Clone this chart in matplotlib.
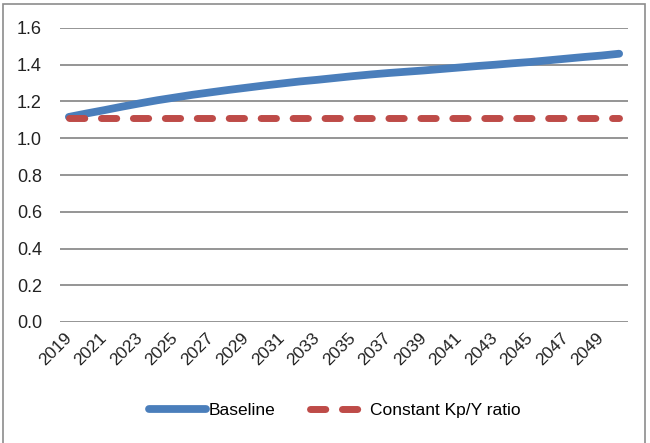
import matplotlib
matplotlib.use("Agg")
import matplotlib.pyplot as plt
from matplotlib.patches import Rectangle
from matplotlib.transforms import ScaledTranslation

years = list(range(2019, 2051))
baseline = [1.116, 1.135, 1.153, 1.172, 1.190, 1.207, 1.222, 1.237, 1.250, 1.263,
            1.275, 1.287, 1.298, 1.309, 1.318, 1.328, 1.338, 1.347, 1.355, 1.362,
            1.369, 1.377, 1.385, 1.393, 1.400, 1.408, 1.415, 1.424, 1.433, 1.442,
            1.450, 1.460]
constant = [1.11] * len(years)
tick_years = [str(y) for y in range(2019, 2050, 2)]
series_names = ["Baseline", "Constant Kp/Y ratio"]

plt.rcParams['font.family'] = ['Liberation Sans', 'DejaVu Sans']

fig = plt.figure(figsize=(6.5, 4.43), dpi=100)
ax = fig.add_axes([60/650, 1-322/443, (628-60)/650, (322-28)/443])

x = list(range(len(years)))
ax.plot(x, baseline, color='#4a7ebb', lw=5.6, solid_capstyle='round',
        label=series_names[0], zorder=3)
ax.plot(x, constant, color='#be4b48', lw=5.0, dashes=(2.2, 2.4),
        dash_capstyle='round', label=series_names[1], zorder=3)

ax.set_xlim(-0.5, len(years) - 0.5)
ax.set_ylim(0, 1.6)
ax.set_yticks([i * 0.2 for i in range(9)])
ax.set_yticklabels([f"{i*0.2:.1f}" for i in range(9)], fontsize=13, color='#222222')
ax.set_xticks([years.index(int(t)) for t in tick_years])
ax.set_xticklabels(tick_years, rotation=45, ha='right', va='center',
                   rotation_mode='anchor', fontsize=12.5, color='#222222')
off = ScaledTranslation(7/100, 0, fig.dpi_scale_trans)
for lbl in ax.get_xticklabels():
    lbl.set_transform(lbl.get_transform() + off)
ax.tick_params(axis='y', length=0, pad=13)
ax.tick_params(axis='x', length=0, pad=10)
ax.grid(axis='y', color='#8c8c8c', lw=1.3)
ax.set_axisbelow(True)
for s in ax.spines.values():
    s.set_visible(False)

leg = fig.legend(loc='center', bbox_to_anchor=(0.515, 1-410/443), ncol=2,
                 frameon=False, fontsize=12.5, handlelength=3.3,
                 columnspacing=2.0, handletextpad=0.15)

fig.patches.append(Rectangle((3/650, -0.05), (645-3)/650, 1.05 - 4/443,
                             transform=fig.transFigure, fill=False,
                             edgecolor='#8c8c8c', lw=1.2))

fig.savefig("out.png", dpi=100)
